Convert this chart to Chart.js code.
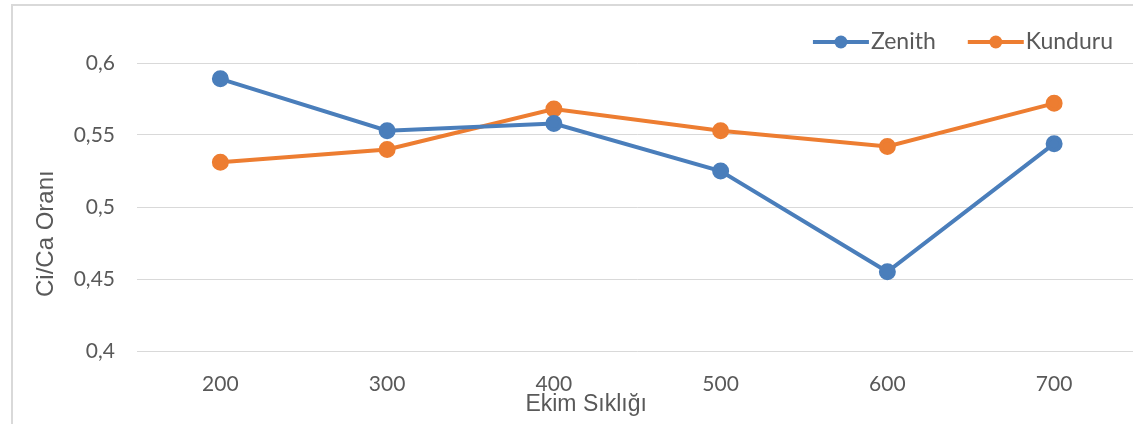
<!DOCTYPE html>
<html>
<head>
    <title>Ci/Ca Oranı</title>
    <script src="https://cdn.jsdelivr.net/npm/chart.js"></script>
    <style>
        body { margin: 0; background: #fff; overflow: hidden; }
        #chart-container { width: 1148px; height: 424px; position: relative; }
    </style>
</head>
<body>
    <div id="chart-container">
        <canvas id="ratioChart"></canvas>
    </div>
    <script>
        // data
        const categories = ['200', '300', '400', '500', '600', '700'];
        const zenith = [0.589, 0.553, 0.558, 0.525, 0.455, 0.544];
        const kunduru = [0.531, 0.540, 0.568, 0.553, 0.542, 0.572];
        const seriesNames = ['Zenith', 'Kunduru'];
        const yTicks = [0.4, 0.45, 0.5, 0.55, 0.6];

        const blue = '#4a7ebb';
        const orange = '#ed7d31';
        const textGray = '#595959';

        // frame + line/marker legend like the original
        const framePlugin = {
            id: 'frame',
            afterDraw(chart) {
                const ctx = chart.ctx;
                ctx.save();
                ctx.strokeStyle = '#d9d9d9';
                ctx.lineWidth = 2;
                ctx.strokeRect(12, 5, 1160, 430);

                ctx.font = '23px Lato, "Noto Sans", sans-serif';
                ctx.textBaseline = 'middle';
                const y = 42;
                let x = 1113;
                const items = chart.data.datasets.map(d => d).reverse();
                items.forEach(ds => {
                    const w = ctx.measureText(ds.label).width;
                    x -= w;
                    ctx.fillStyle = textGray;
                    ctx.fillText(ds.label, x, y);
                    const lineEnd = x - 2;
                    const lineStart = lineEnd - 56;
                    ctx.strokeStyle = ds.borderColor;
                    ctx.lineWidth = 4;
                    ctx.beginPath();
                    ctx.moveTo(lineStart, y);
                    ctx.lineTo(lineEnd, y);
                    ctx.stroke();
                    ctx.fillStyle = ds.borderColor;
                    ctx.beginPath();
                    ctx.arc((lineStart + lineEnd) / 2, y, 6.5, 0, Math.PI * 2);
                    ctx.fill();
                    x = lineStart - 32;
                });
                ctx.restore();
            }
        };

        const ctx = document.getElementById('ratioChart').getContext('2d');
        new Chart(ctx, {
            type: 'line',
            data: {
                labels: categories,
                datasets: [{
                    label: seriesNames[0],
                    data: zenith,
                    borderColor: blue,
                    backgroundColor: blue,
                    borderWidth: 4,
                    pointRadius: 6.5,
                    pointHoverRadius: 6.5,
                    tension: 0
                }, {
                    label: seriesNames[1],
                    data: kunduru,
                    borderColor: orange,
                    backgroundColor: orange,
                    borderWidth: 4,
                    pointRadius: 6.5,
                    pointHoverRadius: 6.5,
                    tension: 0
                }]
            },
            options: {
                responsive: true,
                maintainAspectRatio: false,
                animation: false,
                layout: { padding: { top: 63, left: 0, right: 0, bottom: 0 } },
                plugins: {
                    legend: { display: false },
                    tooltip: { enabled: false }
                },
                scales: {
                    x: {
                        offset: true,
                        grid: { display: false, drawTicks: false },
                        border: { display: false },
                        ticks: {
                            color: textGray,
                            font: { family: 'Lato, "Noto Sans", sans-serif', size: 21 },
                            padding: 21
                        },
                        title: {
                            display: true,
                            // trailing spaces push the centred title left, as in the original
                            text: 'Ekim Sıklığı                ',
                            color: textGray,
                            font: { family: '"Liberation Sans", Arial, sans-serif', size: 23 },
                            padding: { top: 0, bottom: 6 }
                        },
                        afterFit(scale) { scale.height = 73; }
                    },
                    y: {
                        min: 0.4,
                        max: 0.6,
                        afterBuildTicks(scale) {
                            scale.ticks = yTicks.map(v => ({ value: v }));
                        },
                        grid: { color: '#d9d9d9', lineWidth: 1, drawTicks: false },
                        border: { display: false },
                        ticks: {
                            color: textGray,
                            font: { family: 'Lato, "Noto Sans", sans-serif', size: 21 },
                            padding: 22,
                            callback: v => Number(v.toFixed(2)).toString().replace('.', ',')
                        },
                        title: {
                            display: true,
                            text: 'Ci/Ca Oranı        ',
                            color: textGray,
                            font: { family: '"Liberation Sans", Arial, sans-serif', size: 24 },
                            padding: { top: 32, bottom: 0 }
                        },
                        afterFit(scale) { scale.width = 137; }
                    }
                }
            },
            plugins: [framePlugin]
        });
    </script>
</body>
</html>
